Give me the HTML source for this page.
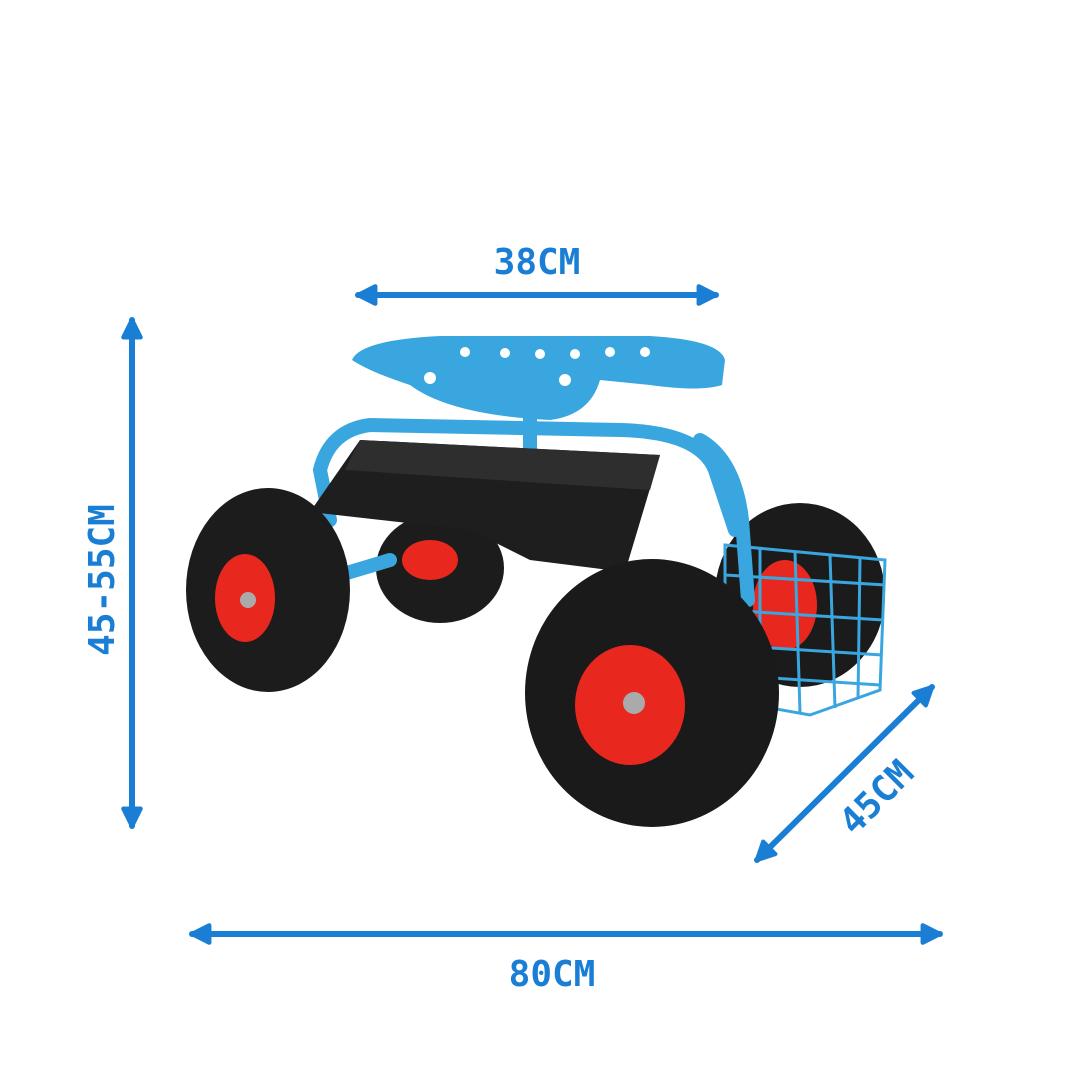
<!DOCTYPE html>
<html><head><meta charset="utf-8"><style>
html,body{margin:0;padding:0;background:#fff;}
svg{display:block}
text{font-family:"DejaVu Sans Mono","Liberation Mono",monospace;font-weight:bold;fill:#1a7fd4;font-size:36px}
</style></head><body>
<svg width="1080" height="1080" viewBox="0 0 1080 1080">
<defs>
<marker id="ah" viewBox="0 0 10 10" refX="9" refY="5" markerWidth="3.6" markerHeight="3.6" orient="auto-start-reverse">
<path d="M1,1 L9,5 L1,9 Z" fill="#1a7fd4" stroke="#1a7fd4" stroke-linejoin="round" stroke-width="2"/>
</marker>
</defs>
<!-- back wheels -->
<ellipse cx="800" cy="595" rx="85" ry="92" fill="#1b1b1b"/>
<ellipse cx="785" cy="605" rx="32" ry="45" fill="#e8281e"/>
<ellipse cx="440" cy="568" rx="64" ry="55" fill="#1c1c1c"/>
<ellipse cx="430" cy="560" rx="28" ry="20" fill="#e8281e"/>
<!-- frame tubes -->
<g stroke="#3aa6df" stroke-width="14" fill="none" stroke-linecap="round">
<path d="M330,520 L320,470 Q330,430 370,425 L620,430 Q700,432 715,470 L735,530"/>
<path d="M700,440 Q735,460 742,520 L748,600"/>
<path d="M340,575 L390,560"/>
<path d="M530,405 L530,515"/>
</g>
<!-- tray -->
<path d="M310,512 L360,440 L660,455 L625,572 L530,560 L470,530 Z" fill="#1e1e1e"/>
<path d="M360,440 L660,455 L650,490 L345,470 Z" fill="#2e2e2e"/>
<!-- seat -->
<path d="M352,360 Q360,340 440,336 L650,336 Q720,340 725,360 L722,385 Q700,392 650,385 L600,380 Q590,415 550,420 Q450,415 410,385 Q370,372 352,360 Z" fill="#3aa6df"/>
<g fill="#fff"><circle cx="465" cy="352" r="5"/><circle cx="505" cy="353" r="5"/><circle cx="540" cy="354" r="5"/><circle cx="575" cy="354" r="5"/><circle cx="610" cy="352" r="5"/><circle cx="645" cy="352" r="5"/><circle cx="430" cy="378" r="6"/><circle cx="565" cy="380" r="6"/></g>
<!-- left front wheel -->
<ellipse cx="268" cy="590" rx="82" ry="102" fill="#1c1c1c"/>
<ellipse cx="245" cy="598" rx="30" ry="44" fill="#e8281e"/>
<circle cx="248" cy="600" r="8" fill="#aaa"/>
<!-- basket -->
<g stroke="#3aa6df" stroke-width="3" fill="none">
<path d="M725,545 L885,560 L880,690 L810,715 L725,700 Z"/>
<path d="M725,575 L885,585 M725,610 L883,620 M725,645 L882,655 M725,675 L880,685"/>
<path d="M760,548 L760,705 M795,552 L800,712 M830,555 L835,708 M860,558 L858,698"/>
</g>
<!-- front right wheel -->
<ellipse cx="652" cy="693" rx="127" ry="134" fill="#1a1a1a"/>
<ellipse cx="630" cy="705" rx="55" ry="60" fill="#e8281e"/>
<circle cx="634" cy="703" r="11" fill="#aaa"/>
<!-- dimension arrows -->
<g stroke="#1a7fd4" stroke-width="6" stroke-linecap="round" marker-start="url(#ah)" marker-end="url(#ah)">
<line x1="358" y1="295" x2="716" y2="295"/>
<line x1="132" y1="320" x2="132" y2="826"/>
<line x1="192" y1="934" x2="940" y2="934"/>
<line x1="932" y1="687" x2="757" y2="860"/>
</g>
<text x="537" y="274" text-anchor="middle">38CM</text>
<text x="552" y="986" text-anchor="middle">80CM</text>
<text transform="translate(114,580) rotate(-90)" text-anchor="middle">45-55CM</text>
<text transform="translate(885,806) rotate(-45)" text-anchor="middle">45CM</text>
</svg>
</body></html>
